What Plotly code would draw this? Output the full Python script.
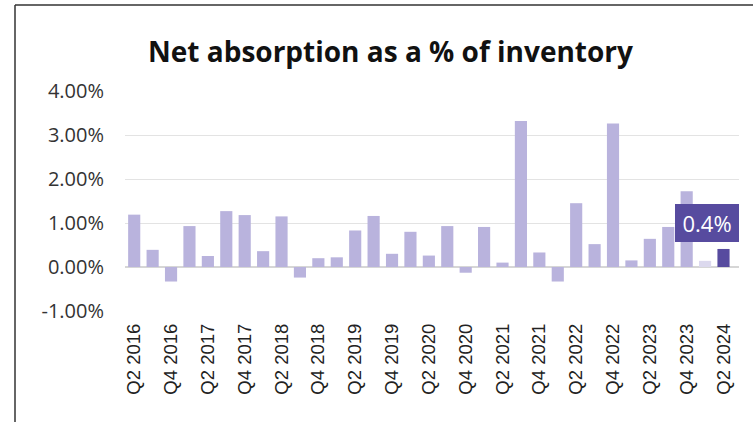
import plotly.graph_objects as go

quarters = ["Q2 2016", "Q3 2016", "Q4 2016", "Q1 2017", "Q2 2017", "Q3 2017", "Q4 2017", "Q1 2018",
            "Q2 2018", "Q3 2018", "Q4 2018", "Q1 2019", "Q2 2019", "Q3 2019", "Q4 2019", "Q1 2020",
            "Q2 2020", "Q3 2020", "Q4 2020", "Q1 2021", "Q2 2021", "Q3 2021", "Q4 2021", "Q1 2022",
            "Q2 2022", "Q3 2022", "Q4 2022", "Q1 2023", "Q2 2023", "Q3 2023", "Q4 2023", "Q1 2024",
            "Q2 2024"]
absorption_pct = [1.19, 0.39, -0.33, 0.93, 0.25, 1.27, 1.18, 0.36,
                  1.15, -0.24, 0.20, 0.22, 0.83, 1.16, 0.30, 0.80,
                  0.26, 0.93, -0.13, 0.91, 0.10, 3.32, 0.33, -0.33,
                  1.45, 0.52, 3.26, 0.15, 0.64, 0.91, 1.72, 0.14,
                  0.41]
tick_labels = quarters[::2]
y_ticks = [-1, 0, 1, 2, 3, 4]
y_tick_text = ["-1.00%", "0.00%", "1.00%", "2.00%", "3.00%", "4.00%"]
callout_text = "0.4%"

base_color = "#b9b3dd"
prev_color = "#dcd9ee"
latest_color = "#574b9f"
colors = [base_color] * (len(quarters) - 2) + [prev_color, latest_color]

fig = go.Figure(go.Bar(
    x=quarters, y=absorption_pct, marker=dict(color=colors, line=dict(width=0)),
    hoverinfo="x+y",
))

W, H = 753, 422
L, R, T, B = 125, 14, 91, 111
pw = W - L - R
ph = H - T - B

def px_x(p):
    return (p - L) / pw

def px_y(p):
    return (H - B - p) / ph

fig.update_layout(
    width=W, height=H,
    margin=dict(l=L, r=R, t=T, b=B),
    paper_bgcolor="white", plot_bgcolor="white",
    bargap=0.34,
    showlegend=False,
    title=dict(text="<b>Net absorption as a % of inventory</b>", x=(148 + 633) / 2 / W, xanchor="center",
               y=1 - 52 / H, yanchor="middle",
               font=dict(family="Open Sans", size=28, color="#111111")),
    xaxis=dict(type="category", tickmode="array", tickvals=tick_labels, ticktext=tick_labels,
               tickangle=-90, showgrid=False, showline=False, ticks="",
               tickfont=dict(family="Liberation Sans, Arial", size=18.5, color="#222222"),
               ticklabelstandoff=8),
    yaxis=dict(range=[-1, 4], tickvals=y_ticks, ticktext=y_tick_text,
               showgrid=True, gridcolor="#e3e3e3", gridwidth=1,
               zeroline=True, zerolinecolor="#d6d6d6", zerolinewidth=2,
               showline=False, ticks="",
               tickfont=dict(family="Open Sans", size=20, color="#333333"),
               ticklabelstandoff=20),
    shapes=[
        dict(type="line", xref="paper", yref="paper", x0=px_x(15), x1=px_x(15), y0=px_y(5), y1=px_y(H + 2),
             line=dict(color="#333333", width=1.5)),
        dict(type="line", xref="paper", yref="paper", x0=px_x(15), x1=px_x(W + 2), y0=px_y(5), y1=px_y(5),
             line=dict(color="#333333", width=1.5)),
    ],
    annotations=[
        dict(x=quarters[-1], y=1.0, xref="x", yref="y", text=callout_text, showarrow=False,
             xshift=-16.5, width=64, height=38, bgcolor=latest_color, borderpad=0, borderwidth=0,
             font=dict(family="Open Sans", size=22, color="white"), align="center", valign="middle"),
    ],
)

fig.write_html("out.html")
